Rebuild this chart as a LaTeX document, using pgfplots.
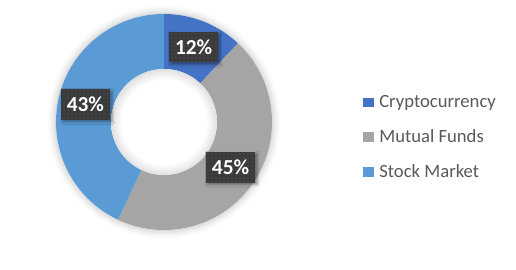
\documentclass[border=0pt]{standalone}
\usepackage{fontspec}
\setmainfont{Carlito}
\usepackage{pgfplots}
\pgfplotsset{compat=1.18}
\usepackage{pgfplotstable}
\usetikzlibrary{calc,shadows.blur,patterns}
\definecolor{sl0}{HTML}{4472C4}
\definecolor{sl1}{HTML}{A5A5A5}
\definecolor{sl2}{HTML}{5B9BD5}
\definecolor{lblbox}{HTML}{3A3A3A}
\definecolor{legtext}{HTML}{595959}
\pgfplotstableread{
name value
Cryptocurrency 12
{Mutual Funds} 45
{Stock Market} 43
}\datatable
\pgfdeclareradialshading{holeshade}{\pgfpoint{0bp}{0bp}}{color(0bp)=(white); color(20bp)=(white); color(25bp)=(black!12); color(50bp)=(black!12)}
\begin{document}
\def\curang{90}%
\pgfplotsforeachungrouped \i in {0,1,2}{%
  \pgfplotstablegetelem{\i}{value}\of\datatable
  \pgfmathsetmacro\endang{\curang-3.6*\pgfplotsretval}%
  \pgfmathsetmacro\midang{(\curang+\endang)/2}%
  \expandafter\xdef\csname sa\i\endcsname{\curang}%
  \expandafter\xdef\csname ea\i\endcsname{\endang}%
  \expandafter\xdef\csname ma\i\endcsname{\midang}%
  \expandafter\xdef\csname pv\i\endcsname{\pgfplotsretval}%
  \xdef\curang{\endang}%
}%
\begin{tikzpicture}
\begin{axis}[
  x=0.75pt, y=0.75pt, xmin=0, xmax=516, ymin=0, ymax=270,
  hide axis, clip=false,
  legend style={draw=none, fill=none, inner sep=0pt, anchor=north west,
    at={(0.703,0.659)}, font=\fontsize{14}{16.8}\selectfont, text=legtext,
    row sep=11pt, legend cell align=left,
    /tikz/every odd column/.append style={column sep=2.5pt}},
  legend cell align=left,
]
\path (axis cs:0,0) rectangle (axis cs:516,270);
% soft shadow behind the ring
\fill[white, blur shadow={shadow xshift=0pt, shadow yshift=0pt, shadow blur radius=6pt, shadow opacity=30}] (axis cs:164,148) circle[radius=81pt];
\pgfplotsinvokeforeach{0,1,2}{
  \fill[sl#1] ($(axis cs:164,148)+(\csname sa#1\endcsname:81pt)$)
     arc[start angle=\csname sa#1\endcsname, end angle=\csname ea#1\endcsname, radius=81pt]
     -- ($(axis cs:164,148)+(\csname ea#1\endcsname:39.75pt)$)
     arc[start angle=\csname ea#1\endcsname, end angle=\csname sa#1\endcsname, radius=39.75pt]
     -- cycle;
}
\shade[shading=holeshade] (axis cs:164,148) circle[radius=39.75pt];
\pgfplotsinvokeforeach{0,1,2}{
  \node[fill=lblbox, text=white, font=\bfseries\fontsize{16}{19}\selectfont,
    minimum width=37pt, minimum height=23pt, inner sep=0pt,
    blur shadow={shadow xshift=1.5pt, shadow yshift=-1.5pt, shadow blur radius=2pt, shadow opacity=40},
    postaction={pattern=dots, pattern color=lblbox!80!white}]
    at ($(axis cs:164,148)+(\csname ma#1\endcsname:60.375pt)$) {\csname pv#1\endcsname\%};
}
\addlegendimage{legend image code/.code={\fill[sl0] (0pt,-3.2pt) rectangle (7.3pt,3.2pt);}}
\addlegendentry{Cryptocurrency}
\addlegendimage{legend image code/.code={\fill[sl1] (0pt,-3.2pt) rectangle (7.3pt,3.2pt);}}
\addlegendentry{Mutual Funds}
\addlegendimage{legend image code/.code={\fill[sl2] (0pt,-3.2pt) rectangle (7.3pt,3.2pt);}}
\addlegendentry{Stock Market}
\end{axis}
\end{tikzpicture}
\end{document}
